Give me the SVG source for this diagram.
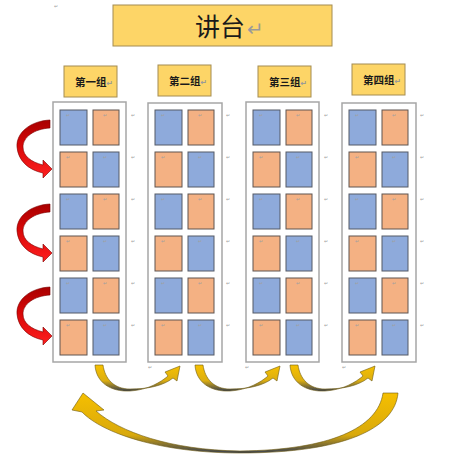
<svg xmlns="http://www.w3.org/2000/svg" width="460" height="465" viewBox="0 0 460 465">
<style>
.lbl{fill:#fdd567;stroke:#a48c52;stroke-width:1}
.col{fill:#ffffff;stroke:#a6a6a6;stroke-width:1.5}
.b{fill:#8eaadb;stroke:#555a66;stroke-width:1}
.o{fill:#f4b183;stroke:#5f5550;stroke-width:1}
.cjk{font-family:"Noto Sans CJK SC","Noto Sans",sans-serif;fill:#1a1a1a}
.ret{font-family:"DejaVu Sans",sans-serif;fill:#9a9a9a}
.m{font-family:"DejaVu Sans",sans-serif;font-size:5px;fill:#a0a0a0}
.red{fill:url(#gr);stroke:#7a0000;stroke-width:0.6}
.gold{stroke:#6e5a10;stroke-width:0.6}
</style>
<defs>
<linearGradient id="gr" x1="0" y1="0" x2="0" y2="1">
<stop offset="0" stop-color="#a80000"/>
<stop offset="0.45" stop-color="#d80808"/>
<stop offset="1" stop-color="#ff2020"/>
</linearGradient>
<linearGradient id="gs" x1="0" y1="0" x2="0" y2="1">
<stop offset="0" stop-color="#f7c100"/>
<stop offset="0.6" stop-color="#dcae10"/>
<stop offset="1" stop-color="#3a4150"/>
</linearGradient>
<linearGradient id="gb" x1="0" y1="0" x2="0" y2="1">
<stop offset="0" stop-color="#f5bf00"/>
<stop offset="0.7" stop-color="#d9a90c"/>
<stop offset="1" stop-color="#3a4150"/>
</linearGradient>
<g id="seats">
<rect class="b" x="7" y="8" width="27" height="35"/><rect class="o" x="40" y="8" width="26" height="35"/>
<rect class="o" x="7" y="50" width="27" height="35"/><rect class="b" x="40" y="50" width="26" height="35"/>
<rect class="b" x="7" y="92" width="27" height="35"/><rect class="o" x="40" y="92" width="26" height="35"/>
<rect class="o" x="7" y="134" width="27" height="35"/><rect class="b" x="40" y="134" width="26" height="35"/>
<rect class="b" x="7" y="176" width="27" height="35"/><rect class="o" x="40" y="176" width="26" height="35"/>
<rect class="o" x="7" y="218" width="27" height="35"/><rect class="b" x="40" y="218" width="26" height="35"/>
<text class="m" x="13" y="15">↵</text><text class="m" x="50" y="15">↵</text><text class="m" x="78" y="15">↵</text>
<text class="m" x="13" y="57">↵</text><text class="m" x="50" y="57">↵</text><text class="m" x="78" y="57">↵</text>
<text class="m" x="13" y="99">↵</text><text class="m" x="50" y="99">↵</text><text class="m" x="78" y="99">↵</text>
<text class="m" x="13" y="141">↵</text><text class="m" x="50" y="141">↵</text><text class="m" x="78" y="141">↵</text>
<text class="m" x="13" y="183">↵</text><text class="m" x="50" y="183">↵</text><text class="m" x="78" y="183">↵</text>
<text class="m" x="13" y="225">↵</text><text class="m" x="50" y="225">↵</text><text class="m" x="78" y="225">↵</text>
</g>
</defs>
<rect width="460" height="465" fill="#ffffff"/>
<text class="m" x="54" y="8">↵</text>

<g id="podium">
<rect x="113" y="5" width="219" height="41" fill="#fdd567" stroke="#a48c52" stroke-width="1"/>
<text class="cjk" x="195" y="36" font-size="25">讲台<tspan class="ret" font-size="20" dx="2">↵</tspan></text>
</g>

<g id="label1"><rect class="lbl" x="64" y="66" width="53" height="31"/><text class="cjk" x="75" y="86" font-size="10.5" font-weight="bold">第一组<tspan class="ret" font-size="8">↵</tspan></text></g>
<g id="label2"><rect class="lbl" x="158" y="65" width="53" height="31"/><text class="cjk" x="169" y="85" font-size="10.5" font-weight="bold">第二组<tspan class="ret" font-size="8">↵</tspan></text></g>
<g id="label3"><rect class="lbl" x="258" y="66" width="53" height="31"/><text class="cjk" x="269" y="86" font-size="10.5" font-weight="bold">第三组<tspan class="ret" font-size="8">↵</tspan></text></g>
<g id="label4"><rect class="lbl" x="352" y="64" width="53" height="31"/><text class="cjk" x="363" y="84" font-size="10.5" font-weight="bold">第四组<tspan class="ret" font-size="8">↵</tspan></text></g>

<g id="group1"><rect class="col" x="53" y="102" width="73" height="260"/><use href="#seats" x="53" y="102"/></g>
<g id="group2"><rect class="col" x="148" y="103" width="74" height="259"/><use href="#seats" x="148" y="102"/></g>
<g id="group3"><rect class="col" x="246" y="102" width="73" height="260"/><use href="#seats" x="246" y="102"/></g>
<g id="group4"><rect class="col" x="342" y="103" width="74" height="259"/><use href="#seats" x="342" y="102"/></g>

<text class="m" x="148" y="369">↵</text>
<text class="m" x="245" y="369">↵</text>
<text class="m" x="342" y="369">↵</text>

<g id="connectors">
<path class="red" d="M50,120 C30,121 16,133 17,147 C18,160 28,170 43,173 L43,178 L52,169 L43,160 L43,165 C31,162 23,156 23,147 C23,137 34,129 50,128 Z"/>
<path class="red" d="M50,204 C30,205 16,217 17,231 C18,244 28,254 43,257 L43,262 L52,253 L43,244 L43,249 C31,246 23,240 23,231 C23,221 34,213 50,212 Z"/>
<path class="red" d="M50,287 C30,288 16,300 17,314 C18,327 28,337 43,340 L43,345 L52,336 L43,327 L43,332 C31,329 23,323 23,314 C23,304 34,296 50,295 Z"/>

<path class="gold" fill="url(#gs)" d="M95,365 C96,382 110,392 130,391 C148,390 161,382 168,376 L165,372 L180,366 L177,381 L173,378 C163,386 148,389 130,389 C114,389 105,379 103,365 Z"/>
<path class="gold" fill="url(#gs)" d="M195,365 C196,382 210,392 230,391 C248,390 261,382 268,376 L265,372 L280,366 L277,381 L273,378 C263,386 248,389 230,389 C214,389 205,379 203,365 Z"/>
<path class="gold" fill="url(#gs)" d="M290,365 C291,382 305,392 325,391 C343,390 356,382 363,376 L360,372 L375,366 L372,381 L368,378 C358,386 343,389 325,389 C309,389 300,379 298,365 Z"/>

<path class="gold" fill="url(#gb)" d="M398,393 C395,428 345,453 240,453 C160,453 102,433 82,412 L72,410 L83,393 L104,410 L96,411 C120,432 170,450 240,451 C330,450 378,428 383,393 Z"/>
</g>
</svg>
